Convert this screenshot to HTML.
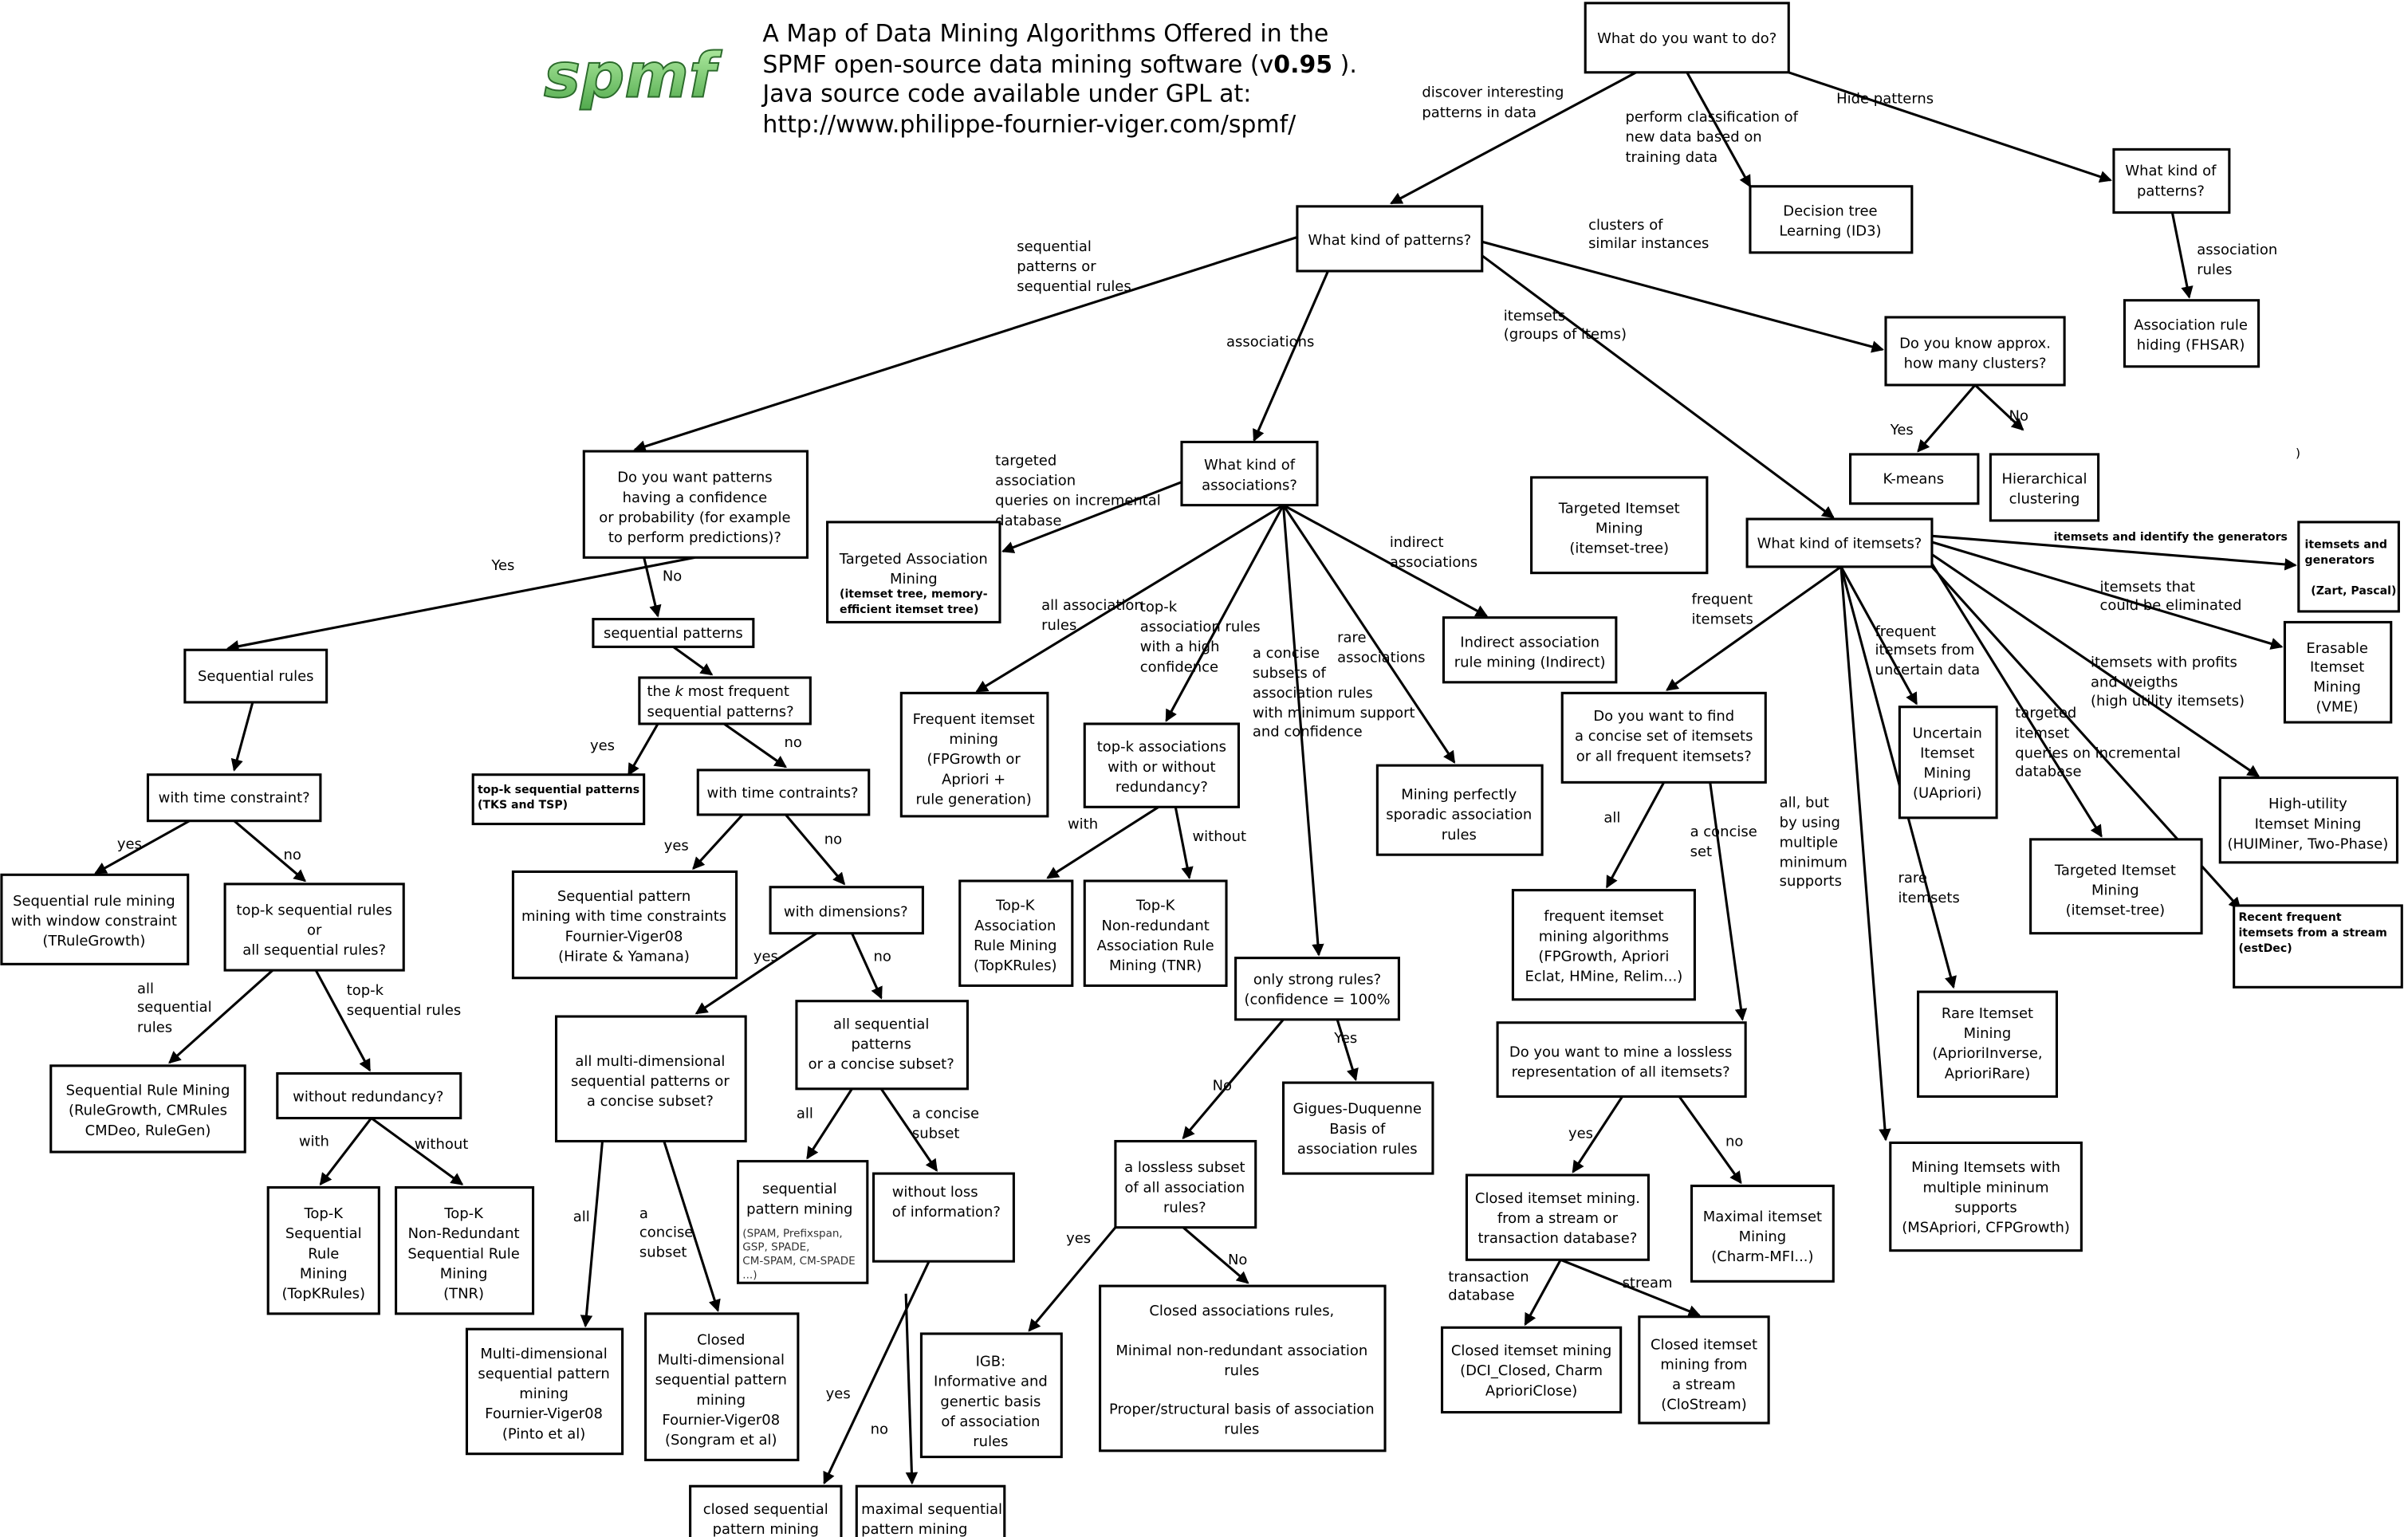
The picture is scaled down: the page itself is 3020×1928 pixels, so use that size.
<!DOCTYPE html>
<html><head><meta charset="utf-8"><style>
html,body{margin:0;padding:0;background:#fff;}
svg{display:block;}
text{font-family:"DejaVu Sans","Liberation Sans",sans-serif;font-size:9.3px;fill:#000;}
.c{text-anchor:middle;}
.b{font-weight:bold;font-size:7.3px;}
.s{font-size:7px;fill:#333;}
rect{fill:#fff;stroke:#000;stroke-width:1.6;}
line{stroke:#000;stroke-width:1.6;marker-end:url(#a);}
.h{font-size:15.5px;}
</style></head><body>
<svg width="3020" height="1928" viewBox="0 0 1563 998" preserveAspectRatio="none" xmlns="http://www.w3.org/2000/svg">
<defs><marker id="a" markerWidth="8" markerHeight="8" refX="7" refY="4" orient="auto" markerUnits="userSpaceOnUse"><path d="M0,0 L8,4 L0,8 z" fill="#000"/></marker>
<linearGradient id="g" x1="0" y1="0" x2="0" y2="1"><stop offset="0" stop-color="#b8f0a8"/><stop offset="1" stop-color="#4ea84a"/></linearGradient></defs>

<text x="353" y="63" style="font-size:40px;font-weight:bold;font-style:italic;fill:url(#g);stroke:#2b6a2b;stroke-width:1">spmf</text>
<text x="495" y="27" class="h">A Map of Data Mining Algorithms Offered in the</text>
<text x="495" y="47" class="h">SPMF open-source data mining software (v<tspan font-weight="bold">0.95</tspan> ).</text>
<text x="495" y="66" class="h">Java source code available under GPL at:</text>
<text x="495" y="86" class="h">http://www.philippe-fournier-viger.com/spmf/</text>

<line x1="1062" y1="47" x2="903" y2="132"/>
<line x1="1095" y1="47" x2="1136" y2="121"/>
<line x1="1161" y1="47" x2="1370" y2="117"/>
<line x1="1410" y1="138" x2="1421" y2="193"/>
<line x1="962" y1="157" x2="1222" y2="227"/>
<line x1="1282" y1="250" x2="1245" y2="293"/>
<line x1="1282" y1="250" x2="1313" y2="279"/>
<line x1="962" y1="166" x2="1190" y2="336"/>
<line x1="842" y1="154" x2="412" y2="292"/>
<line x1="862" y1="176" x2="814" y2="286"/>
<line x1="767" y1="313" x2="651" y2="358"/>
<line x1="833" y1="328" x2="634" y2="449"/>
<line x1="833" y1="328" x2="757" y2="468"/>
<line x1="833" y1="328" x2="856" y2="620"/>
<line x1="833" y1="328" x2="944" y2="495"/>
<line x1="833" y1="328" x2="965" y2="400"/>
<line x1="1195" y1="368" x2="1082" y2="448"/>
<line x1="1195" y1="368" x2="1244" y2="457"/>
<line x1="1195" y1="368" x2="1268" y2="641"/>
<line x1="1195" y1="368" x2="1224" y2="740"/>
<line x1="1254" y1="348" x2="1490" y2="367"/>
<line x1="1254" y1="352" x2="1481" y2="420"/>
<line x1="1254" y1="360" x2="1466" y2="504"/>
<line x1="1254" y1="366" x2="1364" y2="543"/>
<line x1="1254" y1="368" x2="1454" y2="590"/>
<line x1="1080" y1="508" x2="1043" y2="576"/>
<line x1="1110" y1="508" x2="1131" y2="662"/>
<line x1="1053" y1="712" x2="1021" y2="761"/>
<line x1="1090" y1="712" x2="1130" y2="768"/>
<line x1="1013" y1="818" x2="990" y2="860"/>
<line x1="1013" y1="818" x2="1103" y2="854"/>
<line x1="833" y1="662" x2="768" y2="739"/>
<line x1="868" y1="662" x2="880" y2="701"/>
<line x1="724" y1="797" x2="668" y2="864"/>
<line x1="768" y1="797" x2="810" y2="833"/>
<line x1="752" y1="524" x2="680" y2="570"/>
<line x1="763" y1="524" x2="772" y2="570"/>
<line x1="451" y1="362" x2="148" y2="421"/>
<line x1="418" y1="362" x2="427" y2="400"/>
<line x1="437" y1="420" x2="462" y2="438"/>
<line x1="427" y1="470" x2="408" y2="503"/>
<line x1="470" y1="470" x2="510" y2="498"/>
<line x1="482" y1="529" x2="450" y2="564"/>
<line x1="510" y1="529" x2="548" y2="574"/>
<line x1="530" y1="606" x2="452" y2="658"/>
<line x1="553" y1="606" x2="572" y2="648"/>
<line x1="553" y1="707" x2="524" y2="752"/>
<line x1="572" y1="707" x2="608" y2="760"/>
<line x1="164" y1="456" x2="152" y2="500"/>
<line x1="123" y1="533" x2="62" y2="567"/>
<line x1="152" y1="533" x2="198" y2="572"/>
<line x1="177" y1="630" x2="110" y2="690"/>
<line x1="205" y1="630" x2="240" y2="695"/>
<line x1="241" y1="726" x2="208" y2="769"/>
<line x1="241" y1="726" x2="300" y2="769"/>
<line x1="391" y1="741" x2="380" y2="861"/>
<line x1="431" y1="741" x2="466" y2="851"/>
<line x1="603" y1="819" x2="535" y2="963"/>
<line x1="588" y1="840" x2="592" y2="963"/>

<text x="923" y="63">discover interesting</text><text x="923" y="76">patterns in data</text>
<text x="1055" y="79">perform classification of</text><text x="1055" y="92">new data based on</text><text x="1055" y="105">training data</text>
<text x="1192" y="67">Hide patterns</text>
<text x="1426" y="165">association</text><text x="1426" y="178">rules</text>
<text x="1031" y="149">clusters of</text><text x="1031" y="161">similar instances</text>
<text x="1227" y="282">Yes</text><text x="1304" y="273">No</text>
<text x="976" y="208">itemsets</text><text x="976" y="220">(groups of items)</text>
<text x="660" y="163">sequential</text><text x="660" y="176">patterns or</text><text x="660" y="189">sequential rules</text>
<text x="796" y="225">associations</text>
<text x="646" y="302">targeted</text><text x="646" y="315">association</text><text x="646" y="328">queries on incremental</text><text x="646" y="341">database</text>
<text x="676" y="396">all association</text><text x="676" y="409">rules</text>
<text x="740" y="397">top-k</text><text x="740" y="410">association rules</text><text x="740" y="423">with a high</text><text x="740" y="436">confidence</text>
<text x="813" y="427">a concise</text><text x="813" y="440">subsets of</text><text x="813" y="453">association rules</text><text x="813" y="466">with minimum support</text><text x="813" y="478">and confidence</text>
<text x="868" y="417">rare</text><text x="868" y="430">associations</text>
<text x="902" y="355">indirect</text><text x="902" y="368">associations</text>
<text x="1098" y="392">frequent</text><text x="1098" y="405">itemsets</text>
<text x="1217" y="413">frequent</text><text x="1217" y="425">itemsets from</text><text x="1217" y="438">uncertain data</text>
<text x="1232" y="573">rare</text><text x="1232" y="586">itemsets</text>
<text x="1155" y="524">all, but</text><text x="1155" y="537">by using</text><text x="1155" y="550">multiple</text><text x="1155" y="563">minimum</text><text x="1155" y="575">supports</text>
<text x="1333" y="351" class="b">itemsets and identify the generators</text>
<text x="1363" y="384">itemsets that</text><text x="1363" y="396">could be eliminated</text>
<text x="1357" y="433">itemsets with profits</text><text x="1357" y="446">and weigths</text><text x="1357" y="458">(high utility itemsets)</text>
<text x="1308" y="466">targeted</text><text x="1308" y="479">itemset</text><text x="1308" y="492">queries on incremental</text><text x="1308" y="504">database</text>
<text x="1041" y="534">all</text>
<text x="1097" y="543">a concise</text><text x="1097" y="556">set</text>
<text x="1018" y="739">yes</text><text x="1120" y="744">no</text>
<text x="940" y="832">transaction</text><text x="940" y="844">database</text>
<text x="1053" y="836">stream</text>
<text x="787" y="708">No</text><text x="866" y="677">Yes</text>
<text x="692" y="807">yes</text><text x="797" y="821">No</text>
<text x="693" y="538">with</text><text x="774" y="546">without</text>
<text x="319" y="370">Yes</text><text x="430" y="377">No</text>
<text x="383" y="487">yes</text><text x="509" y="485">no</text>
<text x="431" y="552">yes</text><text x="535" y="548">no</text>
<text x="489" y="624">yes</text><text x="567" y="624">no</text>
<text x="517" y="726">all</text>
<text x="592" y="726">a concise</text><text x="592" y="739">subset</text>
<text x="76" y="551">yes</text><text x="184" y="558">no</text>
<text x="89" y="645">all</text><text x="89" y="657">sequential</text><text x="89" y="670">rules</text>
<text x="225" y="646">top-k</text><text x="225" y="659">sequential rules</text>
<text x="194" y="744">with</text><text x="269" y="746">without</text>
<text x="372" y="793">all</text>
<text x="415" y="791">a</text><text x="415" y="803">concise</text><text x="415" y="816">subset</text>
<text x="536" y="908">yes</text><text x="565" y="931">no</text>

<g>
<rect x="1029" y="2" width="132" height="45"/><text x="1095" y="28" class="c">What do you want to do?</text>
<rect x="842" y="134" width="120" height="42"/><text x="902" y="159" class="c">What kind of patterns?</text>
<rect x="1136" y="121" width="105" height="43"/><text x="1188" y="140" class="c">Decision tree</text><text x="1188" y="153" class="c">Learning (ID3)</text>
<rect x="1372" y="97" width="75" height="41"/><text x="1409" y="114" class="c">What kind of</text><text x="1409" y="127" class="c">patterns?</text>
<rect x="1379" y="195" width="87" height="43"/><text x="1422" y="214" class="c">Association rule</text><text x="1422" y="227" class="c">hiding (FHSAR)</text>
<rect x="1224" y="206" width="116" height="44"/><text x="1282" y="226" class="c">Do you know approx.</text><text x="1282" y="239" class="c">how many clusters?</text>
<rect x="1201" y="295" width="83" height="32"/><text x="1242" y="314" class="c">K-means</text>
<rect x="1292" y="295" width="70" height="43"/><text x="1327" y="314" class="c">Hierarchical</text><text x="1327" y="327" class="c">clustering</text>
<rect x="994" y="310" width="114" height="62"/><text x="1051" y="333" class="c">Targeted Itemset</text><text x="1051" y="346" class="c">Mining</text><text x="1051" y="359" class="c">(itemset-tree)</text>
<rect x="1134" y="337" width="120" height="31"/><text x="1194" y="356" class="c">What kind of itemsets?</text>
<rect x="1492" y="339" width="65" height="58"/><text x="1496" y="356" class="b">itemsets and</text><text x="1496" y="366" class="b">generators</text><text x="1500" y="386" class="b">(Zart, Pascal)</text>
<rect x="1483" y="404" width="69" height="65"/><text x="1517" y="424" class="c">Erasable</text><text x="1517" y="436" class="c">Itemset</text><text x="1517" y="449" class="c">Mining</text><text x="1517" y="462" class="c">(VME)</text>
<rect x="1441" y="505" width="115" height="55"/><text x="1498" y="525" class="c">High-utility</text><text x="1498" y="538" class="c">Itemset Mining</text><text x="1498" y="551" class="c">(HUIMiner, Two-Phase)</text>
<rect x="1450" y="588" width="109" height="53"/><text x="1453" y="598" class="b">Recent frequent</text><text x="1453" y="608" class="b">itemsets from a stream</text><text x="1453" y="618" class="b">(estDec)</text>
<rect x="1318" y="545" width="111" height="61"/><text x="1373" y="568" class="c">Targeted Itemset</text><text x="1373" y="581" class="c">Mining</text><text x="1373" y="594" class="c">(itemset-tree)</text>
<rect x="1233" y="459" width="63" height="72"/><text x="1264" y="479" class="c">Uncertain</text><text x="1264" y="492" class="c">Itemset</text><text x="1264" y="505" class="c">Mining</text><text x="1264" y="518" class="c">(UApriori)</text>
<rect x="1245" y="644" width="90" height="68"/><text x="1290" y="661" class="c">Rare Itemset</text><text x="1290" y="674" class="c">Mining</text><text x="1290" y="687" class="c">(AprioriInverse,</text><text x="1290" y="700" class="c">AprioriRare)</text>
<rect x="1227" y="742" width="124" height="70"/><text x="1289" y="761" class="c">Mining Itemsets with</text><text x="1289" y="774" class="c">multiple mininum</text><text x="1289" y="787" class="c">supports</text><text x="1289" y="800" class="c">(MSApriori, CFPGrowth)</text>
<rect x="1014" y="450" width="132" height="58"/><text x="1080" y="468" class="c">Do you want to find</text><text x="1080" y="481" class="c">a concise set of itemsets</text><text x="1080" y="494" class="c">or all frequent itemsets?</text>
<rect x="982" y="578" width="118" height="71"/><text x="1041" y="598" class="c">frequent itemset</text><text x="1041" y="611" class="c">mining algorithms</text><text x="1041" y="624" class="c">(FPGrowth, Apriori</text><text x="1041" y="637" class="c">Eclat, HMine, Relim...)</text>
<rect x="972" y="664" width="161" height="48"/><text x="1052" y="686" class="c">Do you want to mine a lossless</text><text x="1052" y="699" class="c">representation of all itemsets?</text>
<rect x="1098" y="770" width="92" height="62"/><text x="1144" y="793" class="c">Maximal itemset</text><text x="1144" y="806" class="c">Mining</text><text x="1144" y="819" class="c">(Charm-MFI...)</text>
<rect x="952" y="763" width="118" height="55"/><text x="1011" y="781" class="c">Closed itemset mining.</text><text x="1011" y="794" class="c">from a stream or</text><text x="1011" y="807" class="c">transaction database?</text>
<rect x="936" y="862" width="116" height="55"/><text x="994" y="880" class="c">Closed itemset mining</text><text x="994" y="893" class="c">(DCI_Closed, Charm</text><text x="994" y="906" class="c">AprioriClose)</text>
<rect x="1064" y="855" width="84" height="69"/><text x="1106" y="876" class="c">Closed itemset</text><text x="1106" y="889" class="c">mining from</text><text x="1106" y="902" class="c">a stream</text><text x="1106" y="915" class="c">(CloStream)</text>
<rect x="767" y="287" width="88" height="41"/><text x="811" y="305" class="c">What kind of</text><text x="811" y="318" class="c">associations?</text>
<rect x="537" y="339" width="112" height="65"/><text x="593" y="366" class="c">Targeted Association</text><text x="593" y="379" class="c">Mining</text><text x="545" y="388" class="b">(itemset tree, memory-</text><text x="545" y="398" class="b">efficient itemset tree)</text>
<rect x="937" y="401" width="112" height="42"/><text x="993" y="420" class="c">Indirect association</text><text x="993" y="433" class="c">rule mining (Indirect)</text>
<rect x="585" y="450" width="95" height="80"/><text x="632" y="470" class="c">Frequent itemset</text><text x="632" y="483" class="c">mining</text><text x="632" y="496" class="c">(FPGrowth or</text><text x="632" y="509" class="c">Apriori +</text><text x="632" y="522" class="c">rule generation)</text>
<rect x="704" y="470" width="100" height="54"/><text x="754" y="488" class="c">top-k associations</text><text x="754" y="501" class="c">with or without</text><text x="754" y="514" class="c">redundancy?</text>
<rect x="894" y="497" width="107" height="58"/><text x="947" y="519" class="c">Mining perfectly</text><text x="947" y="532" class="c">sporadic association</text><text x="947" y="545" class="c">rules</text>
<rect x="623" y="572" width="73" height="68"/><text x="659" y="591" class="c">Top-K</text><text x="659" y="604" class="c">Association</text><text x="659" y="617" class="c">Rule Mining</text><text x="659" y="630" class="c">(TopKRules)</text>
<rect x="704" y="572" width="92" height="68"/><text x="750" y="591" class="c">Top-K</text><text x="750" y="604" class="c">Non-redundant</text><text x="750" y="617" class="c">Association Rule</text><text x="750" y="630" class="c">Mining (TNR)</text>
<rect x="802" y="622" width="106" height="40"/><text x="855" y="639" class="c">only strong rules?</text><text x="855" y="652" class="c">(confidence = 100%</text>
<rect x="833" y="703" width="97" height="59"/><text x="881" y="723" class="c">Gigues-Duquenne</text><text x="881" y="736" class="c">Basis of</text><text x="881" y="749" class="c">association rules</text>
<rect x="724" y="741" width="91" height="56"/><text x="769" y="761" class="c">a lossless subset</text><text x="769" y="774" class="c">of all association</text><text x="769" y="787" class="c">rules?</text>
<rect x="598" y="866" width="91" height="80"/><text x="643" y="887" class="c">IGB:</text><text x="643" y="900" class="c">Informative and</text><text x="643" y="913" class="c">genertic basis</text><text x="643" y="926" class="c">of association</text><text x="643" y="939" class="c">rules</text>
<rect x="714" y="835" width="185" height="107"/><text x="806" y="854" class="c">Closed associations rules,</text><text x="806" y="880" class="c">Minimal non-redundant association</text><text x="806" y="893" class="c">rules</text><text x="806" y="918" class="c">Proper/structural basis of association</text><text x="806" y="931" class="c">rules</text>
<rect x="379" y="293" width="145" height="69"/><text x="451" y="313" class="c">Do you want patterns</text><text x="451" y="326" class="c">having a confidence</text><text x="451" y="339" class="c">or probability (for example</text><text x="451" y="352" class="c">to perform predictions)?</text>
<rect x="385" y="402" width="104" height="18"/><text x="437" y="414" class="c">sequential patterns</text>
<rect x="415" y="440" width="111" height="30"/><text x="420" y="452">the <tspan font-style="italic">k</tspan> most frequent</text><text x="420" y="465">sequential patterns?</text>
<rect x="120" y="422" width="92" height="34"/><text x="166" y="442" class="c">Sequential rules</text>
<rect x="307" y="503" width="111" height="32"/><text x="310" y="515" class="b">top-k sequential patterns</text><text x="310" y="525" class="b">(TKS and TSP)</text>
<rect x="453" y="500" width="111" height="29"/><text x="508" y="518" class="c">with time contraints?</text>
<rect x="333" y="566" width="145" height="69"/><text x="405" y="585" class="c">Sequential pattern</text><text x="405" y="598" class="c">mining with time constraints</text><text x="405" y="611" class="c">Fournier-Viger08</text><text x="405" y="624" class="c">(Hirate &amp; Yamana)</text>
<rect x="500" y="576" width="99" height="30"/><text x="549" y="595" class="c">with dimensions?</text>
<rect x="96" y="503" width="112" height="30"/><text x="152" y="521" class="c">with time constraint?</text>
<rect x="1" y="568" width="121" height="58"/><text x="61" y="588" class="c">Sequential rule mining</text><text x="61" y="601" class="c">with window constraint</text><text x="61" y="614" class="c">(TRuleGrowth)</text>
<rect x="146" y="574" width="116" height="56"/><text x="204" y="594" class="c">top-k sequential rules</text><text x="204" y="607" class="c">or</text><text x="204" y="620" class="c">all sequential rules?</text>
<rect x="33" y="692" width="126" height="56"/><text x="96" y="711" class="c">Sequential Rule Mining</text><text x="96" y="724" class="c">(RuleGrowth, CMRules</text><text x="96" y="737" class="c">CMDeo, RuleGen)</text>
<rect x="180" y="697" width="119" height="29"/><text x="239" y="715" class="c">without redundancy?</text>
<rect x="174" y="771" width="72" height="82"/><text x="210" y="791" class="c">Top-K</text><text x="210" y="804" class="c">Sequential</text><text x="210" y="817" class="c">Rule</text><text x="210" y="830" class="c">Mining</text><text x="210" y="843" class="c">(TopKRules)</text>
<rect x="257" y="771" width="89" height="82"/><text x="301" y="791" class="c">Top-K</text><text x="301" y="804" class="c">Non-Redundant</text><text x="301" y="817" class="c">Sequential Rule</text><text x="301" y="830" class="c">Mining</text><text x="301" y="843" class="c">(TNR)</text>
<rect x="361" y="660" width="123" height="81"/><text x="422" y="692" class="c">all multi-dimensional</text><text x="422" y="705" class="c">sequential patterns or</text><text x="422" y="718" class="c">a concise subset?</text>
<rect x="517" y="650" width="111" height="57"/><text x="572" y="668" class="c">all sequential</text><text x="572" y="681" class="c">patterns</text><text x="572" y="694" class="c">or a concise subset?</text>
<rect x="479" y="754" width="84" height="79"/><text x="519" y="775" class="c">sequential</text><text x="519" y="788" class="c">pattern mining</text><text x="482" y="803" class="s">(SPAM, Prefixspan,</text><text x="482" y="812" class="s">GSP, SPADE,</text><text x="482" y="821" class="s">CM-SPAM, CM-SPADE</text><text x="482" y="830" class="s">...)</text>
<rect x="567" y="762" width="91" height="57"/><text x="579" y="777">without loss</text><text x="579" y="790">of information?</text>
<rect x="303" y="863" width="101" height="81"/><text x="353" y="882" class="c">Multi-dimensional</text><text x="353" y="895" class="c">sequential pattern</text><text x="353" y="908" class="c">mining</text><text x="353" y="921" class="c">Fournier-Viger08</text><text x="353" y="934" class="c">(Pinto et al)</text>
<rect x="419" y="853" width="99" height="95"/><text x="468" y="873" class="c">Closed</text><text x="468" y="886" class="c">Multi-dimensional</text><text x="468" y="899" class="c">sequential pattern</text><text x="468" y="912" class="c">mining</text><text x="468" y="925" class="c">Fournier-Viger08</text><text x="468" y="938" class="c">(Songram et al)</text>
<rect x="448" y="965" width="98" height="40"/><text x="497" y="983" class="c">closed sequential</text><text x="497" y="996" class="c">pattern mining</text>
<rect x="556" y="965" width="96" height="40"/><text x="559" y="983">maximal sequential</text><text x="559" y="996">pattern mining</text>
</g>
<text x="1490" y="297" style="font-size:8px">)</text>
</svg>
</body></html>
